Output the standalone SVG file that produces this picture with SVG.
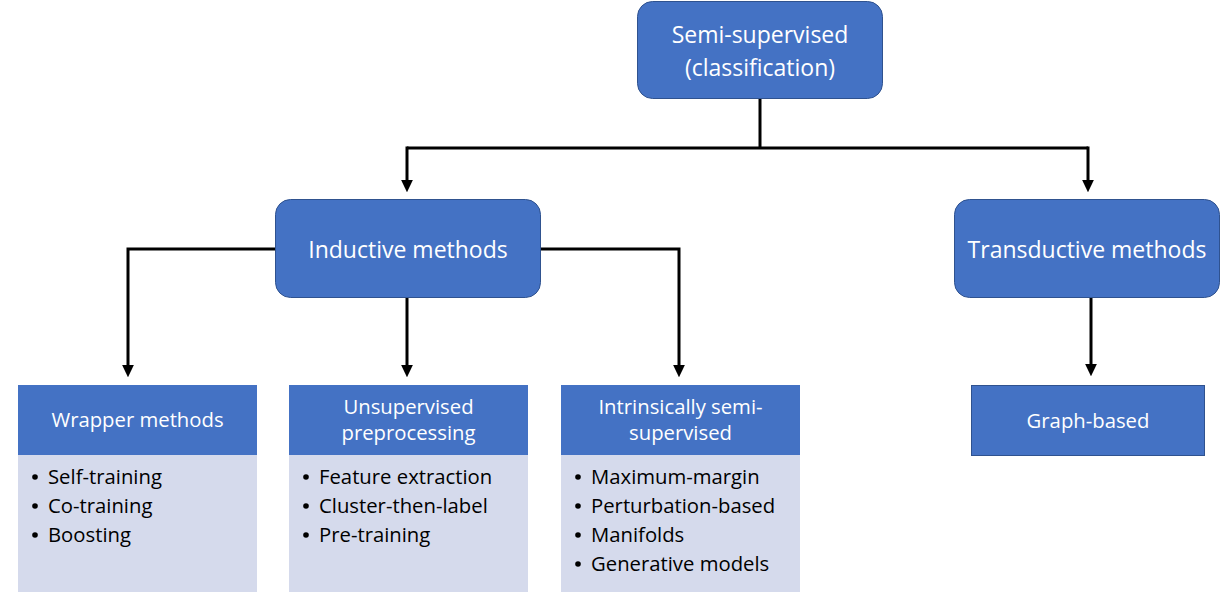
<svg xmlns="http://www.w3.org/2000/svg" width="1232" height="609" viewBox="0 0 1232 609">
<style>
.box{fill:#4472C4;stroke:#2F528F;stroke-width:1}
.hdr{fill:#4472C4}
.body{fill:#D5DAEC}
.t{font-family:"Open Sans","Liberation Sans",sans-serif;font-size:20.3px;fill:#FFFFFF;text-anchor:middle}
.tl{font-family:"Open Sans","Liberation Sans",sans-serif;font-size:23px;fill:#FFFFFF;text-anchor:middle}
.b{font-family:"Open Sans","Liberation Sans",sans-serif;font-size:20.3px;fill:#000000}
.c{fill:none;stroke:#000;stroke-width:3}
.dot{fill:#000}
</style>
<defs>
<marker id="ah" markerWidth="4.2" markerHeight="4" refX="2.1" refY="2" orient="auto" markerUnits="strokeWidth" viewBox="0 0 4.2 4">
<path d="M0,0 L4.2,2 L0,4 Z" fill="#000"/>
</marker>
</defs>
<g id="connectors">
<path class="c" d="M760,99 V148"/>
<path class="c" d="M407,148 H1088"/>
<path class="c" d="M407,146.5 V186" marker-end="url(#ah)"/>
<path class="c" d="M1088,146.5 V186" marker-end="url(#ah)"/>
<path class="c" d="M275,249 H128 V371" marker-end="url(#ah)"/>
<path class="c" d="M407,298 V371" marker-end="url(#ah)"/>
<path class="c" d="M541,249 H679 V371" marker-end="url(#ah)"/>
<path class="c" d="M1091,298 V370" marker-end="url(#ah)"/>
</g>
<g id="root">
<rect class="box" x="637.5" y="1.5" width="245" height="97" rx="15"/>
<text class="tl" x="760" y="43">Semi-supervised</text>
<text class="tl" x="760" y="76">(classification)</text>
</g>
<g id="inductive">
<rect class="box" x="275.5" y="199.5" width="265" height="98" rx="15"/>
<text class="tl" x="408" y="258">Inductive methods</text>
</g>
<g id="transductive">
<rect class="box" x="954.5" y="199.5" width="265" height="98" rx="15"/>
<text class="tl" x="1087" y="258">Transductive methods</text>
</g>
<g id="wrapper">
<rect class="hdr" x="18" y="385" width="239" height="70"/>
<rect class="body" x="18" y="455" width="239" height="137"/>
<text class="t" x="137.5" y="427">Wrapper methods</text>
<circle class="dot" cx="35" cy="477" r="2.8"/><text class="b" x="48" y="484">Self-training</text>
<circle class="dot" cx="35" cy="506" r="2.8"/><text class="b" x="48" y="513">Co-training</text>
<circle class="dot" cx="35" cy="535" r="2.8"/><text class="b" x="48" y="542">Boosting</text>
</g>
<g id="unsupervised">
<rect class="hdr" x="289" y="385" width="239" height="70"/>
<rect class="body" x="289" y="455" width="239" height="137"/>
<text class="t" x="408.5" y="414">Unsupervised</text>
<text class="t" x="408.5" y="440">preprocessing</text>
<circle class="dot" cx="306" cy="477" r="2.8"/><text class="b" x="319" y="484">Feature extraction</text>
<circle class="dot" cx="306" cy="506" r="2.8"/><text class="b" x="319" y="513">Cluster-then-label</text>
<circle class="dot" cx="306" cy="535" r="2.8"/><text class="b" x="319" y="542">Pre-training</text>
</g>
<g id="intrinsic">
<rect class="hdr" x="561" y="385" width="239" height="70"/>
<rect class="body" x="561" y="455" width="239" height="137"/>
<text class="t" x="680.5" y="414">Intrinsically semi-</text>
<text class="t" x="680.5" y="440">supervised</text>
<circle class="dot" cx="578" cy="477" r="2.8"/><text class="b" x="591" y="484">Maximum-margin</text>
<circle class="dot" cx="578" cy="506" r="2.8"/><text class="b" x="591" y="513">Perturbation-based</text>
<circle class="dot" cx="578" cy="535" r="2.8"/><text class="b" x="591" y="542">Manifolds</text>
<circle class="dot" cx="578" cy="564" r="2.8"/><text class="b" x="591" y="571">Generative models</text>
</g>
<g id="graph">
<rect class="box" x="971.5" y="385.5" width="233" height="70"/>
<text class="t" x="1088" y="428">Graph-based</text>
</g>
</svg>
